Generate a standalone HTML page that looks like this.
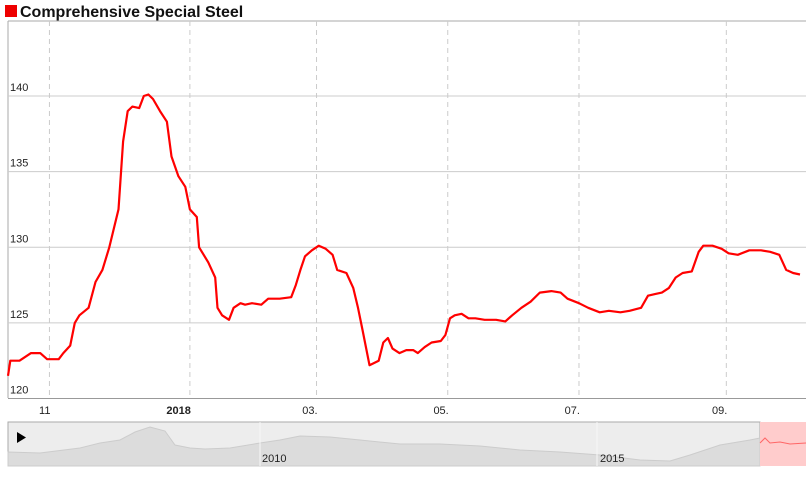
<!DOCTYPE html>
<html><head><meta charset="utf-8"><style>
body{margin:0;background:#fff;font-family:"Liberation Sans",sans-serif}
svg text{font-family:"Liberation Sans",sans-serif}
</style></head><body>
<svg id="c" width="806" height="473" xmlns="http://www.w3.org/2000/svg">
<rect x="5" y="5" width="12" height="12" fill="#e00"/>
<text x="20" y="17" font-size="16" font-weight="bold" fill="#111">Comprehensive Special Steel</text>
<line x1="8" y1="21" x2="8" y2="398" stroke="#aaa"/>
<line x1="8" y1="21" x2="806" y2="21" stroke="#aaa"/>
<g id="grid"></g><g id="xt"></g><g id="yt"></g>
<path id="line" fill="none" stroke="#f00" stroke-width="2.2" stroke-linejoin="round"/>
<line x1="8" y1="398.5" x2="806" y2="398.5" stroke="#999"/>
<g>
<rect x="8" y="422" width="752" height="44" fill="#ededed" stroke="#aaa"/>
<path d="M8,452 L40,453 L80,448 L100,443 L120,440 L135,432 L150,427 L165,431 L175,445 L190,448 L205,449 L230,448 L260,443 L280,440 L300,436 L330,437 L360,440 L400,444 L440,444 L480,446 L520,450 L560,452 L600,455 L640,460 L670,461 L690,455 L720,445 L750,440 L760,438 L760,466 L8,466Z" fill="#dcdcdc" stroke="#ccc"/>
<rect x="760" y="422" width="46" height="44" fill="#fcc"/>
<path d="M760,443 L765,438 L770,443 L780,442 L790,444 L806,443" fill="none" stroke="#f66"/>
<line x1="260" y1="422" x2="260" y2="466" stroke="#f7f7f7"/>
<line x1="597" y1="422" x2="597" y2="466" stroke="#f7f7f7"/>
<text x="262" y="462" font-size="11" fill="#222">2010</text>
<text x="600" y="462" font-size="11" fill="#222">2015</text>
<path d="M17,432 L26,437.5 L17,443Z" fill="#000"/>
</g>
</svg>
<script>
const days=[0,1,5,10,14,17,22,24,27,29,31,35,38,41,44,48,50,52,54,57,59,61,63,66,69,71,74,77,79,82,83,87,90,91,93,96,98,101,103,106,110,113,118,123,125,127,129,132,135,138,141,143,147,150,152,154,157,161,163,165,167,170,173,176,178,181,184,188,190,192,194,197,200,203,207,212,216,219,223,227,231,236,240,243,248,252,257,261,266,270,275,278,281,284,287,290,293,297,300,302,306,310,313,317,322,327,331,335,338,341,344];
const prices=[121.5,122.5,122.5,123,123,122.6,122.6,123,123.5,125,125.5,126,127.7,128.5,130,132.5,137,139,139.3,139.2,140,140.1,139.8,139,138.3,136,134.7,134,132.5,132,130,129,128,126,125.5,125.2,126,126.3,126.2,126.3,126.2,126.6,126.6,126.7,127.5,128.5,129.4,129.8,130.1,129.9,129.5,128.5,128.3,127.3,126,124.5,122.2,122.5,123.7,124,123.3,123,123.2,123.2,123,123.4,123.7,123.8,124.2,125.3,125.5,125.6,125.3,125.3,125.2,125.2,125.1,125.5,126,126.4,127,127.1,127,126.6,126.3,126,125.7,125.8,125.7,125.8,126,126.8,126.9,127,127.3,128,128.3,128.4,129.7,130.1,130.1,129.9,129.6,129.5,129.8,129.8,129.7,129.5,128.5,128.3,128.2];
const xTickDays=[18,79,134,191,248,312];
const xTickLabels=["11","2018","03.","05.","07.","09."];
const yTicks=[120,125,130,135,140];
const X=d=>8+d*(792/344), Y=v=>398.5-(v-120)*(302.5/20);
const NS="http://www.w3.org/2000/svg";
const mk=(t,a,p)=>{const e=document.createElementNS(NS,t);for(const k in a)e.setAttribute(k,a[k]);document.getElementById(p).appendChild(e);return e;};
xTickDays.forEach((d,i)=>{
 const l=mk('line',{x1:X(d),x2:X(d),y1:21,y2:398,stroke:'#ccc','stroke-dasharray':'5,4'},'grid');
 
 
 const t=mk('text',{x:X(d)+1,y:414,'font-size':11,fill:'#222','text-anchor':'end','font-weight':i==1?'bold':'normal'},'xt');
 t.textContent=xTickLabels[i];
 
 
});
yTicks.forEach(v=>{
 if(v>120){const l=mk('line',{x1:8,x2:806,y1:Y(v),y2:Y(v),stroke:'#ccc'},'grid');
 
 }
 const t=mk('text',{x:10,y:Y(v)-5,'font-size':11,fill:'#222'},'yt');
 t.textContent=v;
 
 
});
document.getElementById('line').setAttribute('d',days.map((d,i)=>(i?'L':'M')+X(d).toFixed(1)+','+Y(prices[i]).toFixed(1)).join(' '));
</script>
</body></html>
